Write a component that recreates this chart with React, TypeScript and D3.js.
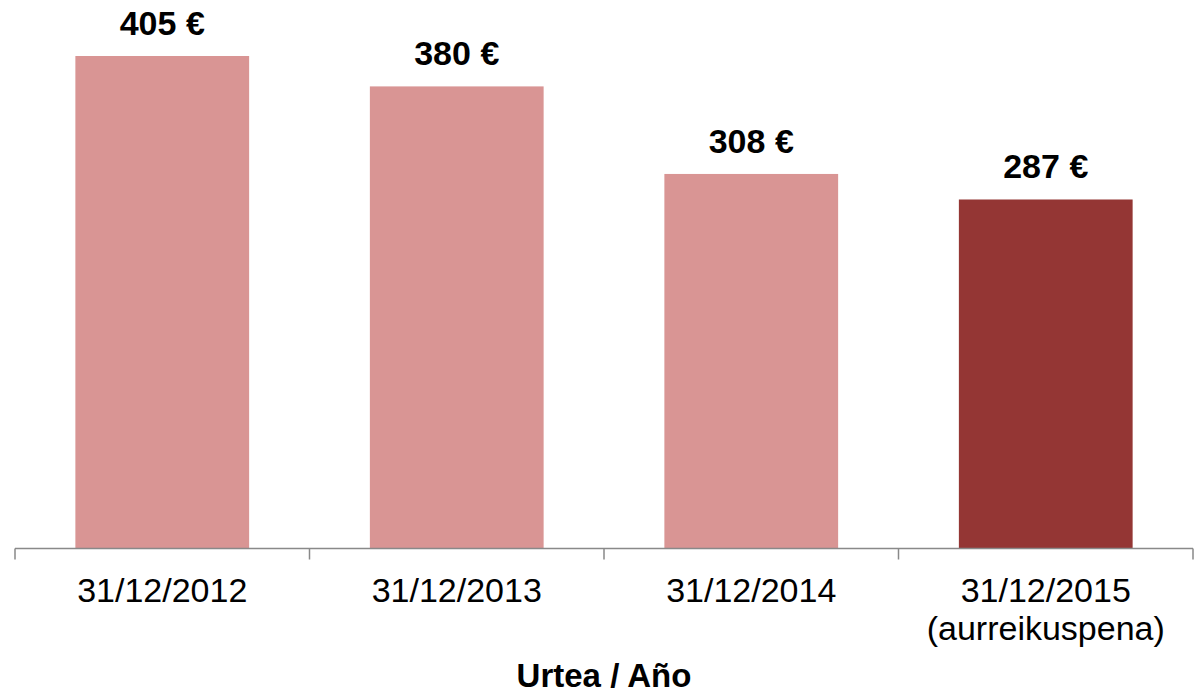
import React from "react";
import * as d3 from "d3";

const categories = ["31/12/2012", "31/12/2013", "31/12/2014", "31/12/2015"];
const subLabels = ["", "", "", "(aurreikuspena)"];
const values = [405, 380, 308, 287];
const highlight = [false, false, false, true];
const axisTitle = "Urtea / Año";

const W = 1194;
const H = 693;
const FONT = "'Liberation Sans', Arial, sans-serif";

export default function App() {
  const x = d3
    .scaleBand<string>()
    .domain(categories)
    .range([15, 1193])
    .paddingInner(0.41)
    .paddingOuter(0.205);
  const y = d3.scaleLinear().domain([0, 405]).range([548.5, 56]);
  const step = x.step();
  const x0 = 15;
  const tickXs = d3.range(categories.length + 1).map((i) => x0 + i * step);

  return (
    <svg
      width={W}
      height={H}
      style={{ position: "absolute", left: 0, top: 0, background: "#fff" }}
      fontFamily={FONT}
    >
      {categories.map((c, i) => (
        <rect
          key={c}
          x={x(c)}
          y={y(values[i])}
          width={x.bandwidth()}
          height={y(0) - y(values[i])}
          fill={highlight[i] ? "#943634" : "#D99594"}
        />
      ))}
      {categories.map((c, i) => (
        <text
          key={"v" + c}
          x={(x(c) as number) + x.bandwidth() / 2}
          y={y(values[i]) - 21}
          textAnchor="middle"
          fontSize={34}
          fontWeight="bold"
          fill="#000"
        >
          {values[i]} €
        </text>
      ))}
      <line x1={x0} x2={1193} y1={y(0)} y2={y(0)} stroke="#898989" strokeWidth={1.5} />
      {tickXs.map((t, i) => (
        <line key={"t" + i} x1={t} x2={t} y1={y(0)} y2={y(0) + 11} stroke="#898989" strokeWidth={1.5} />
      ))}
      {categories.map((c, i) => (
        <text
          key={"l" + c}
          x={(x(c) as number) + x.bandwidth() / 2}
          y={602}
          textAnchor="middle"
          fontSize={34}
          fill="#000"
        >
          <tspan x={(x(c) as number) + x.bandwidth() / 2}>{c}</tspan>
          {subLabels[i] && (
            <tspan x={(x(c) as number) + x.bandwidth() / 2} dy={38}>
              {subLabels[i]}
            </tspan>
          )}
        </text>
      ))}
      <text x={604} y={687} textAnchor="middle" fontSize={33} fontWeight="bold" fill="#000">
        {axisTitle}
      </text>
    </svg>
  );
}
